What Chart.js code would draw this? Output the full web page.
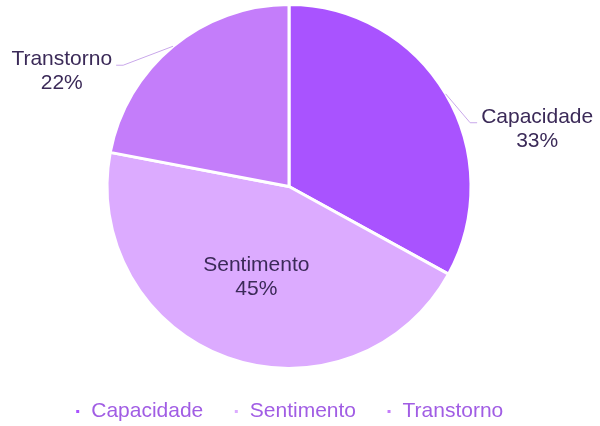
<!DOCTYPE html>
<html>
<head>
<meta charset="utf-8">
<script src="https://cdn.jsdelivr.net/npm/chart.js@4.4.0/dist/chart.umd.min.js"></script>
<style>
  html, body { margin: 0; padding: 0; background: #fff; }
  #wrap { width: 600px; height: 426px; }
</style>
</head>
<body>
<div id="wrap"><canvas id="pieChart" width="600" height="426"></canvas></div>
<script>
// ─── Data ─────────────────────────────────────────────────────────────────────
const categories = ['Capacidade', 'Sentimento', 'Transtorno'];
const shares     = [33, 45, 22];
const pctLabels  = ['33%', '45%', '22%'];

const SLICE_COLORS = ['#a953ff', '#dcabff', '#c47dfa'];
const TEXT_DARK    = '#3b2a58';
const LEGEND_TEXT  = '#a15de4';
const LEADER       = '#c9a8ea';
const FONT         = "'Liberation Sans', Arial, sans-serif";

// label placement: inside (fraction of radius) or outside with an angle shift
const labelPlace = [
  { outside: true,  dist: 1.40, shift: 17.5 },
  { outside: false, dist: 0.53, shift: 0 },
  { outside: true,  dist: 1.40, shift: -23.5 }
];

// ─── Slice labels with leader lines ─────────────────────────────────────────
const sliceLabels = {
  id: 'sliceLabels',
  afterDatasetsDraw(chart) {
    const ctx = chart.ctx;
    const meta = chart.getDatasetMeta(0);
    ctx.save();
    ctx.font = `21px ${FONT}`;
    ctx.textAlign = 'center';
    ctx.textBaseline = 'middle';
    meta.data.forEach((arc, i) => {
      const { x, y, startAngle, endAngle, outerRadius } = arc.getProps(['x','y','startAngle','endAngle','outerRadius'], true);
      const mid = (startAngle + endAngle) / 2;
      const p = labelPlace[i];
      const a = mid + p.shift * Math.PI / 180;
      const lx = x + Math.cos(a) * outerRadius * p.dist;
      const ly = y + Math.sin(a) * outerRadius * p.dist;

      if (p.outside) {
        const w = ctx.measureText(categories[i]).width;
        const side = Math.cos(a) >= 0 ? -1 : 1;
        const edgeX = lx + side * (w / 2 + 4);
        const lineY = ly - 6;
        const ex = x + Math.cos(mid) * outerRadius;
        const ey = y + Math.sin(mid) * outerRadius;
        ctx.strokeStyle = LEADER;
        ctx.lineWidth = 1;
        ctx.beginPath();
        ctx.moveTo(ex, ey);
        ctx.lineTo(edgeX + side * 7, lineY);
        ctx.lineTo(edgeX, lineY);
        ctx.stroke();
      }
      ctx.fillStyle = TEXT_DARK;
      ctx.fillText(categories[i], lx, ly - 12);
      ctx.fillText(pctLabels[i], lx, ly + 12);
    });
    ctx.restore();
  }
};

// ─── Pie ──────────────────────────────────────────────────────────────────────
new Chart(document.getElementById('pieChart').getContext('2d'), {
  type: 'pie',
  data: {
    labels: categories,
    datasets: [{
      data: shares,
      backgroundColor: SLICE_COLORS,
      borderColor: '#ffffff',
      borderWidth: 3,
      radius: 182
    }]
  },
  options: {
    responsive: false,
    animation: false,
    layout: { padding: { top: 2, bottom: -6, left: 0, right: 22 } },
    plugins: {
      tooltip: { enabled: false },
      legend: {
        position: 'bottom',
        labels: {
          color: LEGEND_TEXT,
          font: { family: FONT, size: 21 },
          boxWidth: 6,
          boxHeight: 6,
          padding: 30
        }
      }
    }
  },
  plugins: [sliceLabels]
});
</script>
</body>
</html>
